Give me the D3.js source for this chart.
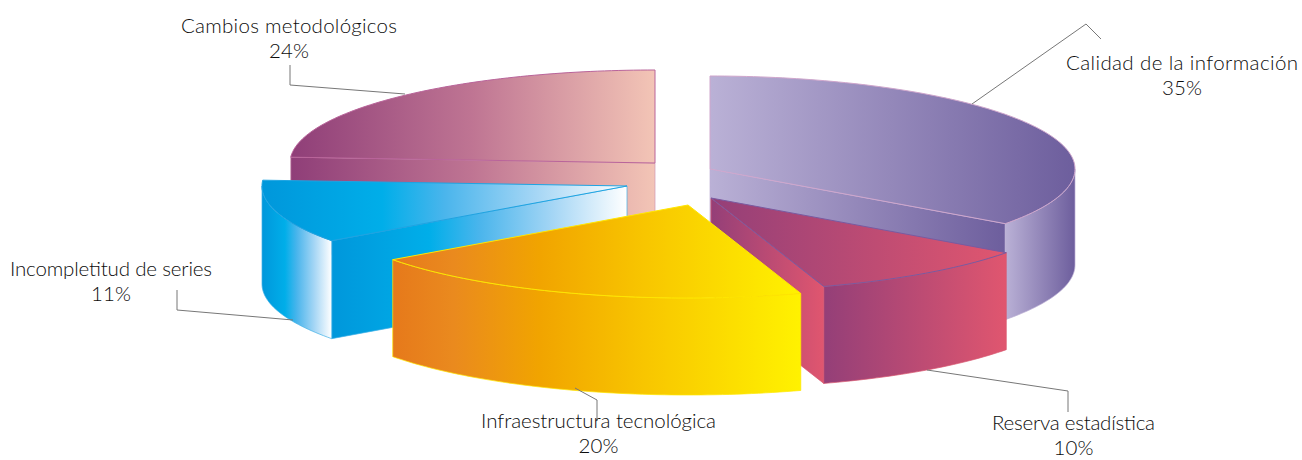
<!DOCTYPE html>
<html lang="es">
<head>
<meta charset="utf-8">
<script src="https://cdn.jsdelivr.net/npm/d3@7"></script>
<style>
html,body{margin:0;padding:0;background:#fff;overflow:hidden}
svg{display:block}
text{font-family:"Lato",sans-serif;font-weight:300;fill:#0c0c0c;font-size:20.5px;text-anchor:middle}
</style>
</head>
<body>
<svg id="chart" width="1302" height="460"></svg>
<script>
// ---- data (clockwise from 12 o'clock)
const categories = ["Calidad de la información","Reserva estadística","Infraestructura tecnológica","Incompletitud de series","Cambios metodológicos"];
const shares = [35,10,20,11,24];

// ---- layout
const apexX = [710,711,688,627,655];
const apexY = [169,198,205,186,163];
const depths = [96,97,97,98,97];
const drawOrder = [4,0,3,1,2];
const radiusX = 365, radiusY = 93;
const labelX = [1182,1073.5,598.5,111,289];
const labelY = [70,430,428,276,33];
const labelWidths = [232,163,235,202,216];
const leaders = [
  [[972,104],[1086,24],[1101,39]],
  [[927,370],[1068,391],[1068,412]],
  [[575,388],[597,400],[597,421]],
  [[293,320],[177,310],[177,290]],
  [[405,94],[290,85],[290,65]]
];

// ---- styles
const sliceStops = [
  [[0,"#bab1d6"],[1,"#6d5e9d"]],
  [[0,"#943f78"],[1,"#e0566f"]],
  [[0,"#e6791b"],[0.15,"#ea8a1e"],[0.36,"#f1a400"],[0.62,"#f8c600"],[1,"#fff200"]],
  [[0,"#0097db"],[0.33,"#00aee9"],[0.5,"#4ab5ec"],[0.75,"#a5d6f5"],[1,"#ffffff"]],
  [[0,"#8f3e78"],[0.5,"#bf7593"],[1,"#f3c5b6"]]
];
const edgeColors = ["#cfa6cc","#7a5aa0","#ffe600","#1ea4e2","#b9649a"];
const wallEdgeColors = ["#bdb0d6","#d9566f","#ffe600","#3fb0e6","#cf9ab5"];

const svg = d3.select("#chart");
const defs = svg.append("defs");
const x = d3.scaleLinear().domain([-1,1]).range([-radiusX,radiusX]);
const y = d3.scaleLinear().domain([-1,1]).range([-radiusY,radiusY]);
const pie = d3.pie().sort(null).value(d=>d).startAngle(0).endAngle(2*Math.PI);
const arcs = pie(shares);
const line = d3.line().x(d=>d[0]).y(d=>d[1]);
const closed = pts => line(pts)+"Z";
const project = (i,a,dz=0)=>[apexX[i]+x(Math.sin(a)),apexY[i]+y(-Math.cos(a))+dz];
let gid=0;
function gradient(i,pts){
  const ext=d3.extent(pts,d=>d[0]);
  const id="g"+(gid++);
  const g=defs.append("linearGradient").attr("id",id).attr("gradientUnits","userSpaceOnUse")
    .attr("x1",ext[0]).attr("x2",ext[1]).attr("y1",0).attr("y2",0);
  g.selectAll("stop").data(sliceStops[i]).join("stop")
    .attr("offset",d=>d[0]).attr("stop-color",d=>d[1]);
  return `url(#${id})`;
}
function arcAngles(a0,a1){
  const n=Math.max(2,Math.ceil((a1-a0)/0.02));
  return d3.range(n+1).map(k=>a0+(a1-a0)*k/n);
}

const slices = svg.append("g");
drawOrder.forEach(i=>{
  const {startAngle:a0,endAngle:a1}=arcs[i];
  const d=depths[i];
  const g=slices.append("g").attr("class","slice");
  const apex=[apexX[i],apexY[i]];
  const wall=(a)=>{
    const p=project(i,a);
    const pts=[apex,p,[p[0],p[1]+d],[apex[0],apex[1]+d]];
    g.append("path").attr("d",closed(pts)).attr("fill",gradient(i,pts))
      .attr("stroke",wallEdgeColors[i]).attr("stroke-width",0.7);
  };
  // visible radial walls
  if(a0>Math.PI && a0<2*Math.PI) wall(a0);
  if(a1>0 && a1<Math.PI) wall(a1);
  // outer rim wall, visible front half only
  const r0=Math.max(a0,Math.PI/2), r1=Math.min(a1,1.5*Math.PI);
  if(r1>r0){
    const angs=arcAngles(r0,r1);
    const top=angs.map(a=>project(i,a));
    const bot=angs.map(a=>project(i,a,d)).reverse();
    const pts=top.concat(bot);
    g.append("path").attr("d",closed(pts)).attr("fill",gradient(i,pts))
      .attr("stroke",wallEdgeColors[i]).attr("stroke-width",0.7);
  }
  // top face
  const rim=arcAngles(a0,a1).map(a=>project(i,a));
  const face=[apex].concat(rim);
  g.append("path").attr("d",closed(face)).attr("fill",gradient(i,face))
    .attr("stroke",edgeColors[i]).attr("stroke-width",1);
});

// leaders and labels
svg.append("g").selectAll("path").data(leaders).join("path")
  .attr("d",d=>line(d)).attr("fill","none").attr("stroke","#777").attr("stroke-width",1);
const labels=svg.append("g").selectAll("text").data(categories).join("text")
  .attr("x",(d,i)=>labelX[i]).attr("y",(d,i)=>labelY[i]);
labels.append("tspan").attr("textLength",(d,i)=>labelWidths[i]).attr("lengthAdjust","spacing").text(d=>d);
labels.append("tspan").attr("x",(d,i)=>labelX[i]).attr("dy",25).text((d,i)=>shares[i]+"%");
</script>
</body>
</html>
